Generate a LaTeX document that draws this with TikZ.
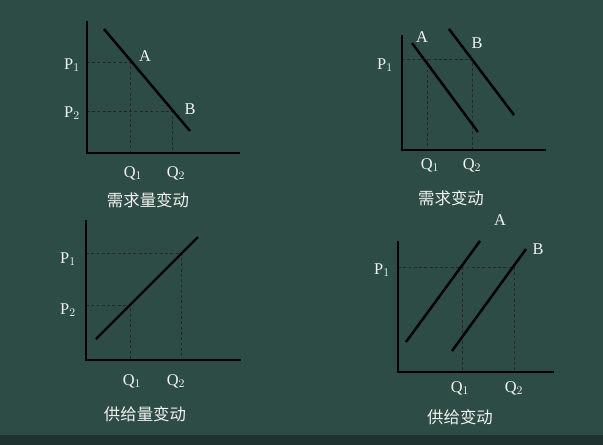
\documentclass[tikz,border=0pt]{standalone}
\usepackage{fontspec}
\setmainfont{Liberation Serif}
\newfontfamily\cjk{Noto Sans CJK SC}[Scale=1]
\usepackage{xcolor}
\definecolor{board}{HTML}{2D4C46}
\definecolor{boardlow}{HTML}{1E332F}
\definecolor{chalk}{HTML}{F2F2EE}
\usetikzlibrary{positioning}
\tikzset{
  axis/.style={draw=black, line width=1.6pt},
  curve/.style={draw=black, line width=2.1pt},
  guide/.style={draw=black!85, line width=0.6pt, dash pattern=on 2.5pt off 2pt},
  lbl/.style={text=chalk, font=\fontsize{14}{16}\selectfont, inner sep=0pt},
  ttl/.style={text=chalk, font=\cjk\fontsize{14}{16}\selectfont, inner sep=0pt}
}

\begin{document}
\begin{tikzpicture}[x=0.03cm, y=-0.03cm]

  \fill[board] (0,0) rectangle (603,445);
  \fill[boardlow] (0,435) rectangle (603,445);
  \useasboundingbox (0,0) rectangle (603,445);

  %% Demand quantity change (top left)
  \coordinate (dqo) at (87,153);
  \coordinate (dqy) at (87,21);
  \coordinate (dqx) at (240,153);
  \coordinate (dqs) at (104,29);
  \coordinate (dqe) at (190,131);
  \coordinate (dqa) at (130,62);
  \coordinate (dqb) at (172,111);
  \draw[guide] (dqa -| dqo) -- (dqa) -- (dqa |- dqo);
  \draw[guide] (dqb -| dqo) -- (dqb) -- (dqb |- dqo);
  \draw[curve] (dqs) -- (dqe);
  \draw[axis] (dqy) -- (dqo) -- (dqx);
  \node[lbl] (dqp1) at (72,65) {P$_1$};
  \node[lbl] (dqp2) at (72,113) {P$_2$};
  \node[lbl] (dqA)  at (145,56) {A};
  \node[lbl] (dqB)  at (190,109) {B};
  \node[lbl] (dqq1) at (133,173) {Q$_1$};
  \node[lbl] (dqq2) at (176,173) {Q$_2$};
  \node[ttl] (dqt)  at (148,200) {需求量变动};

  %% Demand change (top right)
  \coordinate (dso) at (402,150);
  \coordinate (dsy) at (402,35);
  \coordinate (dsx) at (546,150);
  \coordinate (dsas) at (412,43);
  \coordinate (dsae) at (478,132);
  \coordinate (dsbs) at (449,29);
  \coordinate (dsbe) at (514,115);
  \coordinate (dsa) at (427,59);
  \coordinate (dsb) at (472,59);
  \draw[guide] (dsb -| dso) -- (dsb) -- (dsb |- dso);
  \draw[guide] (dsa) -- (dsa |- dso);
  \draw[curve] (dsas) -- (dsae);
  \draw[curve] (dsbs) -- (dsbe);
  \draw[axis] (dsy) -- (dso) -- (dsx);
  \node[lbl] (dsp1) at (385,65) {P$_1$};
  \node[lbl] (dsA)  at (422,37) {A};
  \node[lbl] (dsB)  at (477,43) {B};
  \node[lbl] (dsq1) at (430,165) {Q$_1$};
  \node[lbl] (dsq2) at (472,165) {Q$_2$};
  \node[ttl] (dst)  at (451,198) {需求变动};

  %% Supply quantity change (bottom left)
  \coordinate (sqo) at (86,360);
  \coordinate (sqy) at (86,220);
  \coordinate (sqx) at (241,360);
  \coordinate (sqs) at (96,339);
  \coordinate (sqe) at (198,237);
  \coordinate (sqa) at (181,253);
  \coordinate (sqb) at (130,305);
  \draw[guide] (sqa -| sqo) -- (sqa) -- (sqa |- sqo);
  \draw[guide] (sqb -| sqo) -- (sqb) -- (sqb |- sqo);
  \draw[curve] (sqs) -- (sqe);
  \draw[axis] (sqy) -- (sqo) -- (sqx);
  \node[lbl] (sqp1) at (68,259) {P$_1$};
  \node[lbl] (sqp2) at (68,310) {P$_2$};
  \node[lbl] (sqq1) at (132,381) {Q$_1$};
  \node[lbl] (sqq2) at (176,381) {Q$_2$};
  \node[ttl] (sqt)  at (145,414) {供给量变动};

  %% Supply change (bottom right)
  \coordinate (sso) at (398,372);
  \coordinate (ssy) at (398,241);
  \coordinate (ssx) at (554,372);
  \coordinate (ssas) at (406,342);
  \coordinate (ssae) at (480,241);
  \coordinate (ssbs) at (452,351);
  \coordinate (ssbe) at (526,249);
  \coordinate (ssa) at (462,267);
  \coordinate (ssb) at (514,267);
  \draw[guide] (ssb -| sso) -- (ssb) -- (ssb |- sso);
  \draw[guide] (ssa) -- (ssa |- sso);
  \draw[curve] (ssas) -- (ssae);
  \draw[curve] (ssbs) -- (ssbe);
  \draw[axis] (ssy) -- (sso) -- (ssx);
  \node[lbl] (ssp1) at (382,270) {P$_1$};
  \node[lbl] (ssA)  at (500,220) {A};
  \node[lbl] (ssB)  at (538,249) {B};
  \node[lbl] (ssq1) at (460,388) {Q$_1$};
  \node[lbl] (ssq2) at (514,388) {Q$_2$};
  \node[ttl] (sst)  at (460,417) {供给变动};

\end{tikzpicture}
\end{document}
